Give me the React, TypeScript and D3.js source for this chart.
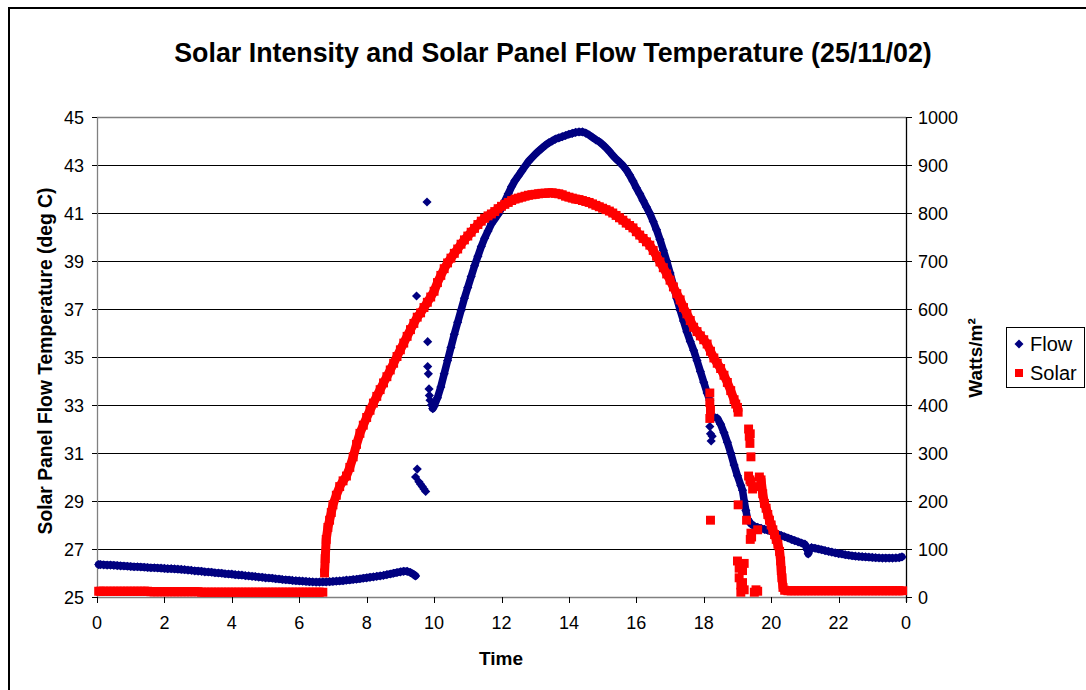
import React, { useEffect, useRef } from 'react';
import * as d3 from 'd3';

// axis ticks
const hourTicks = [0, 2, 4, 6, 8, 10, 12, 14, 16, 18, 20, 22, 24];
const hourLabels = ['0', '2', '4', '6', '8', '10', '12', '14', '16', '18', '20', '22', '0'];
const tempTicks = [25, 27, 29, 31, 33, 35, 37, 39, 41, 43, 45];
const wattTicks = [0, 100, 200, 300, 400, 500, 600, 700, 800, 900, 1000];

// Flow: [hour, deg C], split into the continuous runs and the stray readings
const flowNight: [number, number][] = [
  [0.05, 26.35], [0.1, 26.35], [0.2, 26.34], [0.3, 26.33], [0.4, 26.33], [0.5, 26.32], [0.6, 26.31], [0.7, 26.3], [0.8, 26.29], [0.9, 26.28],
  [1, 26.27], [1.1, 26.26], [1.2, 26.26], [1.3, 26.25], [1.4, 26.24], [1.5, 26.23], [1.6, 26.22], [1.7, 26.22], [1.8, 26.21], [1.9, 26.2],
  [2, 26.19], [2.1, 26.18], [2.2, 26.18], [2.3, 26.17], [2.4, 26.16], [2.5, 26.15], [2.6, 26.14], [2.7, 26.12], [2.8, 26.11], [2.9, 26.09],
  [3, 26.08], [3.1, 26.07], [3.2, 26.05], [3.3, 26.04], [3.4, 26.03], [3.5, 26.01], [3.6, 26], [3.7, 25.99], [3.8, 25.97], [3.9, 25.96],
  [4, 25.95], [4.1, 25.93], [4.2, 25.92], [4.3, 25.91], [4.4, 25.89], [4.5, 25.88], [4.6, 25.86], [4.7, 25.85], [4.8, 25.83], [4.9, 25.82],
  [5, 25.8], [5.1, 25.79], [5.2, 25.78], [5.3, 25.76], [5.4, 25.75], [5.5, 25.73], [5.6, 25.72], [5.7, 25.71], [5.8, 25.69], [5.9, 25.68],
  [6, 25.67], [6.1, 25.66], [6.2, 25.65], [6.3, 25.64], [6.4, 25.63], [6.5, 25.62], [6.6, 25.62], [6.7, 25.63], [6.8, 25.63], [6.9, 25.64],
  [7, 25.65], [7.1, 25.66], [7.2, 25.67], [7.3, 25.68], [7.4, 25.7], [7.5, 25.71], [7.6, 25.73], [7.7, 25.74], [7.8, 25.76], [7.9, 25.78],
  [8, 25.8], [8.1, 25.82], [8.2, 25.84], [8.3, 25.86], [8.4, 25.88], [8.5, 25.9], [8.6, 25.93], [8.7, 25.96], [8.8, 25.99], [8.9, 26.02],
  [9, 26.05], [9.1, 26.07], [9.2, 26.07], [9.3, 26.02], [9.4, 25.93], [9.45, 25.88],
];

const flowStray: [number, number][] = [
  [9.45, 30.0], [9.5, 30.33], [9.55, 29.8], [9.6, 29.7], [9.65, 29.6], [9.7, 29.5], [9.75, 29.4],
  [9.48, 37.54], [9.79, 41.46], [9.81, 35.64], [9.81, 34.6], [9.83, 34.3], [9.85, 33.67], [9.86, 33.4], [9.88, 33.2], [9.92, 33.0],
  [18.18, 32.1], [18.2, 31.8], [18.22, 31.5], [18.25, 31.7], [18.2, 32.4],
];

const flowDay: [number, number][] = [
  [9.96, 32.85], [10, 32.95], [10.1, 33.3], [10.2, 33.75], [10.3, 34.3], [10.4, 34.85], [10.5, 35.4], [10.6, 35.95], [10.7, 36.45], [10.8, 36.95],
  [10.9, 37.45], [11, 37.9], [11.1, 38.35], [11.2, 38.8], [11.3, 39.2], [11.4, 39.6], [11.5, 39.95], [11.6, 40.25], [11.7, 40.55], [11.8, 40.75],
  [11.9, 40.95], [12, 41.2], [12.1, 41.5], [12.2, 41.8], [12.3, 42.1], [12.4, 42.35], [12.5, 42.55], [12.6, 42.75], [12.7, 42.95], [12.8, 43.15],
  [12.9, 43.3], [13, 43.45], [13.1, 43.58], [13.2, 43.7], [13.3, 43.82], [13.4, 43.92], [13.5, 44], [13.6, 44.08], [13.7, 44.13], [13.8, 44.18],
  [13.9, 44.23], [14, 44.28], [14.1, 44.32], [14.2, 44.36], [14.3, 44.38], [14.4, 44.38], [14.5, 44.33], [14.6, 44.25], [14.7, 44.15], [14.8, 44.05],
  [14.9, 43.97], [15, 43.85], [15.1, 43.72], [15.2, 43.57], [15.3, 43.4], [15.4, 43.25], [15.5, 43.12], [15.6, 42.98], [15.7, 42.8], [15.8, 42.58],
  [15.9, 42.33], [16, 42.05], [16.1, 41.8], [16.2, 41.52], [16.3, 41.25], [16.4, 40.98], [16.5, 40.65], [16.6, 40.3], [16.7, 39.9], [16.8, 39.45],
  [16.9, 39], [17, 38.5], [17.1, 37.98], [17.2, 37.45], [17.3, 36.96], [17.4, 36.5], [17.5, 36.05], [17.6, 35.65], [17.7, 35.28], [17.8, 34.85],
  [17.9, 34.4], [18, 33.95], [18.1, 33.5], [18.18, 33.2],
];

const flowEvening: [number, number][] = [
  [18.3, 32.5], [18.4, 32.45], [18.5, 32.2], [18.6, 31.85], [18.7, 31.45], [18.8, 31], [18.9, 30.5], [19, 30.05], [19.1, 29.65], [19.15, 29.45],
  [19.2, 29], [19.25, 28.6], [19.3, 28.25], [19.4, 28.05], [19.5, 27.95], [19.6, 27.9], [19.7, 27.86], [19.8, 27.82], [19.9, 27.78], [20, 27.73],
  [20.1, 27.67], [20.2, 27.61], [20.3, 27.56], [20.4, 27.51], [20.5, 27.46], [20.6, 27.4], [20.7, 27.35], [20.8, 27.3], [20.9, 27.25], [21, 27.2],
  [21.08, 26.95], [21.1, 26.8], [21.12, 26.9], [21.15, 27], [21.2, 27.06], [21.3, 27.03], [21.4, 27], [21.5, 26.97], [21.6, 26.93], [21.7, 26.9],
  [21.8, 26.87], [21.9, 26.84], [22, 26.81], [22.1, 26.79], [22.2, 26.76], [22.3, 26.74], [22.4, 26.72], [22.5, 26.7], [22.6, 26.69], [22.7, 26.68],
  [22.8, 26.67], [22.9, 26.66], [23, 26.65], [23.1, 26.64], [23.2, 26.63], [23.3, 26.62], [23.4, 26.62], [23.5, 26.62], [23.6, 26.62], [23.7, 26.63],
  [23.8, 26.64], [23.88, 26.67],
];

// Solar: [hour, W/m2]
const solarNight: [number, number][] = [
  [0.05, 12], [0.1, 12], [0.2, 12], [0.3, 12], [0.4, 12], [0.5, 12], [0.6, 12], [0.7, 12], [0.8, 12], [0.9, 12],
  [1, 12], [1.1, 12], [1.2, 12], [1.3, 12], [1.4, 12], [1.5, 12], [1.6, 11], [1.7, 11], [1.8, 11], [1.9, 11],
  [2, 11], [2.1, 11], [2.2, 11], [2.3, 11], [2.4, 11], [2.5, 11], [2.6, 11], [2.7, 11], [2.8, 11], [2.9, 11],
  [3, 11], [3.1, 10], [3.2, 10], [3.3, 10], [3.4, 10], [3.5, 10], [3.6, 10], [3.7, 10], [3.8, 10], [3.9, 10],
  [4, 10], [4.1, 10], [4.2, 10], [4.3, 10], [4.4, 10], [4.5, 10], [4.6, 10], [4.7, 10], [4.8, 10], [4.9, 10],
  [5, 10], [5.1, 10], [5.2, 10], [5.3, 10], [5.4, 10], [5.5, 10], [5.6, 10], [5.7, 10], [5.8, 10], [5.9, 10],
  [6, 10], [6.1, 10], [6.2, 10], [6.3, 10], [6.4, 10], [6.5, 10], [6.6, 10], [6.7, 10],
];

const solarDay: [number, number][] = [
  [6.75, 50], [6.77, 80], [6.8, 120], [6.85, 145], [6.9, 160], [6.95, 176], [7, 192], [7.1, 212], [7.2, 230], [7.3, 242],
  [7.4, 252], [7.5, 270], [7.6, 292], [7.7, 318], [7.8, 341], [7.9, 358], [8, 374], [8.1, 389], [8.2, 404], [8.3, 418],
  [8.4, 432], [8.5, 446], [8.6, 459], [8.7, 473], [8.8, 487], [8.9, 501], [9, 515], [9.1, 529], [9.2, 543], [9.3, 557],
  [9.4, 570], [9.5, 583], [9.6, 592], [9.7, 603], [9.8, 614], [9.9, 625], [10, 637], [10.1, 655], [10.2, 670], [10.3, 684],
  [10.4, 696], [10.5, 706], [10.6, 716], [10.7, 725], [10.8, 735], [10.9, 744], [11, 752], [11.1, 760], [11.2, 768], [11.3, 776],
  [11.4, 783], [11.5, 789], [11.6, 794], [11.7, 798], [11.8, 803], [11.9, 809], [12, 814], [12.1, 818], [12.2, 822], [12.3, 826],
  [12.4, 829], [12.5, 831], [12.6, 833], [12.7, 835], [12.8, 837], [12.9, 838], [13, 839], [13.1, 840], [13.2, 841], [13.3, 841],
  [13.4, 842], [13.5, 842], [13.6, 841], [13.7, 840], [13.8, 838], [13.9, 835], [14, 833], [14.1, 831], [14.2, 829], [14.3, 828],
  [14.4, 826], [14.5, 824], [14.6, 822], [14.7, 819], [14.8, 816], [14.9, 813], [15, 810], [15.1, 807], [15.2, 804], [15.3, 800],
  [15.4, 795], [15.5, 790], [15.6, 785], [15.7, 779], [15.8, 774], [15.9, 769], [16, 761], [16.1, 754], [16.2, 747], [16.3, 740],
  [16.4, 733], [16.5, 722], [16.6, 710], [16.7, 698], [16.8, 686], [16.9, 673], [17, 660], [17.1, 646], [17.2, 632], [17.3, 619],
  [17.4, 603], [17.5, 590], [17.6, 576], [17.7, 562], [17.8, 553], [17.9, 544], [18, 536], [18.1, 527], [18.2, 512], [18.3, 498],
  [18.4, 487], [18.5, 476], [18.6, 462], [18.7, 447], [18.8, 430], [18.9, 411], [18.95, 402], [19, 395], [19.02, 385],
];

const solarStray: [number, number][] = [
  [18.18, 425], [18.18, 405], [18.2, 390], [18.18, 372], [18.2, 160],
  [19.02, 192], [19.27, 160], [19, 75], [19.05, 60], [19.05, 40], [19.1, 25], [19.1, 10], [19.15, 55], [19.15, 30], [19.2, 15], [19.2, 70],
  [19.33, 350], [19.35, 335], [19.37, 320], [19.38, 340], [19.4, 292], [19.33, 252], [19.37, 244], [19.4, 240], [19.45, 225],
  [19.4, 133], [19.38, 120], [19.42, 125], [19.55, 15], [19.6, 12], [19.5, 10], [19.55, 230], [19.6, 140],
];

const solarDusk: [number, number][] = [
  [19.65, 250], [19.7, 244], [19.75, 215], [19.8, 195], [19.85, 185], [19.9, 172], [19.95, 160], [20, 150], [20.05, 140], [20.1, 130],
  [20.15, 120], [20.2, 110], [20.25, 95], [20.28, 75], [20.3, 55], [20.32, 40], [20.35, 20], [20.4, 14],
  [20.5, 13], [20.6, 13], [20.7, 13], [20.8, 13], [20.9, 13], [21, 13], [21.1, 13], [21.2, 13], [21.3, 13], [21.4, 13],
  [21.5, 13], [21.6, 13], [21.7, 13], [21.8, 13], [21.9, 13], [22, 13], [22.1, 13], [22.2, 13], [22.3, 13], [22.4, 13],
  [22.5, 13], [22.6, 13], [22.7, 13], [22.8, 13], [22.9, 13], [23, 13], [23.1, 13], [23.2, 13], [23.3, 13], [23.4, 13],
  [23.5, 13], [23.6, 13], [23.7, 13], [23.8, 13], [23.9, 13],
];

const FONT = 'Liberation Sans, Arial, sans-serif';
const FLOW_COLOR = '#000080';
const SOLAR_COLOR = '#ff0000';

const App = () => {
  const svgRef = useRef<SVGSVGElement>(null);

  const width = 1086;
  const height = 690;
  const plot = { left: 97, right: 906, top: 117, bottom: 597 };

  useEffect(() => {
    const svg = d3.select(svgRef.current);
    svg.selectAll('*').remove();

    const x = d3.scaleLinear().domain([0, 24]).range([plot.left, plot.right]);
    const yT = d3.scaleLinear().domain([25, 45]).range([plot.bottom, plot.top]);
    const yW = d3.scaleLinear().domain([0, 1000]).range([plot.bottom, plot.top]);

    // outer chart border (runs off the right and bottom of the window)
    svg.append('rect')
      .attr('x', 9).attr('y', 8)
      .attr('width', 1200).attr('height', 800)
      .attr('fill', '#fff').attr('stroke', '#000').attr('stroke-width', 2);

    // gridlines
    svg.append('g')
      .selectAll('line')
      .data(tempTicks.slice(1, -1))
      .join('line')
      .attr('x1', plot.left).attr('x2', plot.right)
      .attr('y1', d => Math.round(yT(d)) + 0.5).attr('y2', d => Math.round(yT(d)) + 0.5)
      .attr('stroke', '#000').attr('stroke-width', 1);

    // plot frame
    const frame = svg.append('g').attr('stroke', '#808080').attr('stroke-width', 1.3);
    frame.append('line').attr('x1', plot.left).attr('x2', plot.right).attr('y1', plot.top + 0.5).attr('y2', plot.top + 0.5);
    frame.append('line').attr('x1', plot.left).attr('x2', plot.right).attr('y1', plot.bottom + 0.5).attr('y2', plot.bottom + 0.5);
    frame.append('line').attr('x1', plot.left + 0.5).attr('x2', plot.left + 0.5).attr('y1', plot.top).attr('y2', plot.bottom);
    svg.append('line')
      .attr('x1', plot.right + 0.5).attr('x2', plot.right + 0.5)
      .attr('y1', plot.top).attr('y2', plot.bottom + 5)
      .attr('stroke', '#000').attr('stroke-width', 1.3);

    // left axis
    const left = svg.append('g');
    left.selectAll('line')
      .data(tempTicks)
      .join('line')
      .attr('x1', plot.left - 5).attr('x2', plot.left)
      .attr('y1', d => Math.round(yT(d)) + 0.5).attr('y2', d => Math.round(yT(d)) + 0.5)
      .attr('stroke', '#000');
    left.selectAll('text')
      .data(tempTicks)
      .join('text')
      .attr('x', 84).attr('y', d => yT(d) + 6.5)
      .attr('text-anchor', 'end')
      .attr('font-family', FONT).attr('font-size', 18)
      .text(d => d);

    // right axis
    const right = svg.append('g');
    right.selectAll('line')
      .data(wattTicks)
      .join('line')
      .attr('x1', plot.right).attr('x2', plot.right + 6)
      .attr('y1', d => Math.round(yW(d)) + 0.5).attr('y2', d => Math.round(yW(d)) + 0.5)
      .attr('stroke', '#000');
    right.selectAll('text')
      .data(wattTicks)
      .join('text')
      .attr('x', 918).attr('y', d => yW(d) + 6.5)
      .attr('font-family', FONT).attr('font-size', 18)
      .text(d => d);

    // bottom axis
    const bottom = svg.append('g');
    bottom.selectAll('line')
      .data(hourTicks)
      .join('line')
      .attr('x1', d => Math.round(x(d)) + 0.5).attr('x2', d => Math.round(x(d)) + 0.5)
      .attr('y1', plot.bottom).attr('y2', plot.bottom + 6)
      .attr('stroke', '#000');
    bottom.selectAll('text')
      .data(hourTicks)
      .join('text')
      .attr('x', d => x(d)).attr('y', 629)
      .attr('text-anchor', 'middle')
      .attr('font-family', FONT).attr('font-size', 18)
      .text((d, i) => hourLabels[i]);

    // titles
    svg.append('text')
      .attr('x', 553).attr('y', 62)
      .attr('text-anchor', 'middle')
      .attr('font-family', FONT).attr('font-size', 26.8).attr('font-weight', 'bold')
      .text('Solar Intensity and Solar Panel Flow Temperature (25/11/02)');
    svg.append('text')
      .attr('x', 501).attr('y', 665)
      .attr('text-anchor', 'middle')
      .attr('font-family', FONT).attr('font-size', 19).attr('font-weight', 'bold')
      .text('Time');
    svg.append('text')
      .attr('transform', 'translate(52,361) rotate(-90)')
      .attr('text-anchor', 'middle')
      .attr('font-family', FONT).attr('font-size', 19.3).attr('font-weight', 'bold')
      .text('Solar Panel Flow Temperature (deg C)');
    svg.append('text')
      .attr('transform', 'translate(982,358) rotate(-90)')
      .attr('text-anchor', 'middle')
      .attr('font-family', FONT).attr('font-size', 19).attr('font-weight', 'bold')
      .text('Watts/m²');

    // series: the logger readings are so dense they merge into a band,
    // so each continuous run gets a thick stroke under its markers
    const flowLine = d3.line<[number, number]>().x(d => x(d[0])).y(d => yT(d[1]));
    const solarLine = d3.line<[number, number]>().x(d => x(d[0])).y(d => yW(d[1]));
    const diamond = d3.symbol(d3.symbolSquare, 42)();
    const square = d3.symbol(d3.symbolSquare, 80)();

    const flowG = svg.append('g');
    [flowNight, flowDay, flowEvening].forEach(run => {
      flowG.append('path')
        .datum(run)
        .attr('d', flowLine)
        .attr('fill', 'none')
        .attr('stroke', FLOW_COLOR)
        .attr('stroke-width', 7.5)
        .attr('stroke-linejoin', 'round')
        .attr('stroke-linecap', 'round');
    });
    flowG.selectAll('path.pt')
      .data([...flowNight, ...flowStray, ...flowDay, ...flowEvening])
      .join('path')
      .attr('class', 'pt')
      .attr('d', diamond)
      .attr('transform', d => `translate(${x(d[0])},${yT(d[1])}) rotate(45)`)
      .attr('fill', FLOW_COLOR);

    const solarG = svg.append('g');
    [solarNight, solarDay, solarDusk].forEach(run => {
      solarG.append('path')
        .datum(run)
        .attr('d', solarLine)
        .attr('fill', 'none')
        .attr('stroke', SOLAR_COLOR)
        .attr('stroke-width', 9)
        .attr('stroke-linejoin', 'round');
    });
    solarG.selectAll('path.pt')
      .data([...solarNight, ...solarDay, ...solarStray, ...solarDusk])
      .join('path')
      .attr('class', 'pt')
      .attr('d', square)
      .attr('transform', d => `translate(${x(d[0])},${yW(d[1])})`)
      .attr('fill', SOLAR_COLOR);

    // legend
    const legend = svg.append('g');
    legend.append('rect')
      .attr('x', 1006.5).attr('y', 327.5).attr('width', 78).attr('height', 60)
      .attr('fill', '#fff').attr('stroke', '#000');
    legend.append('path')
      .attr('d', d3.symbol(d3.symbolSquare, 40)())
      .attr('transform', 'translate(1019,344) rotate(45)')
      .attr('fill', FLOW_COLOR);
    legend.append('path')
      .attr('d', d3.symbol(d3.symbolSquare, 64)())
      .attr('transform', 'translate(1019,373)')
      .attr('fill', SOLAR_COLOR);
    legend.append('text')
      .attr('x', 1030).attr('y', 351)
      .attr('font-family', FONT).attr('font-size', 20)
      .text('Flow');
    legend.append('text')
      .attr('x', 1030).attr('y', 380)
      .attr('font-family', FONT).attr('font-size', 20)
      .text('Solar');
  }, []);

  return (
    <svg
      ref={svgRef}
      width={width}
      height={height}
      style={{ position: 'absolute', left: 0, top: 0, background: '#fff' }}
    ></svg>
  );
};

export default App;
